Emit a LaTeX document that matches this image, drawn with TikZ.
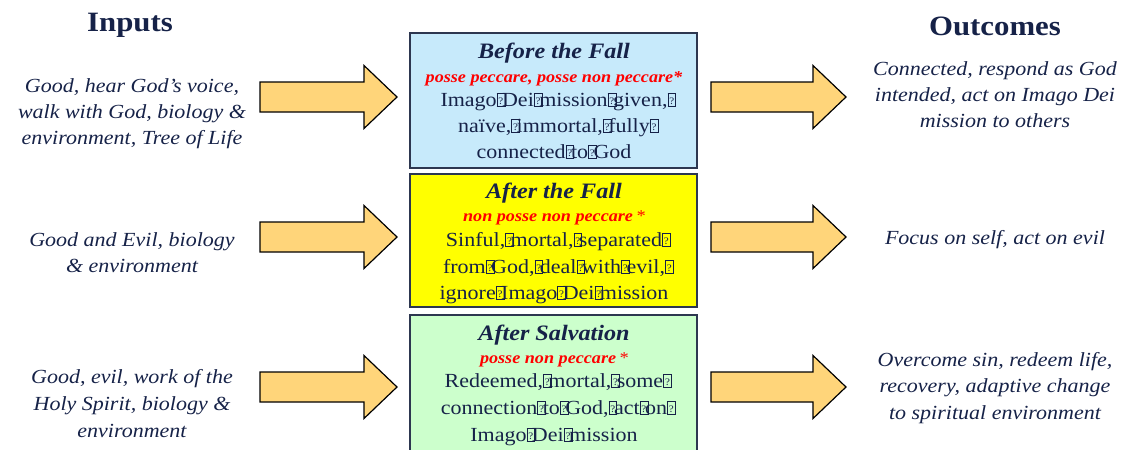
\documentclass[tikz,border=0pt]{standalone}
\usepackage{fontspec}
\setmainfont[FakeStretch=1.1]{Liberation Serif}

\definecolor{ink}{RGB}{22,34,72}
\definecolor{framecol}{RGB}{45,55,80}
\definecolor{skyfill}{RGB}{199,234,251}
\definecolor{sunfill}{RGB}{255,255,0}
\definecolor{mintfill}{RGB}{204,255,204}
\definecolor{arrowfill}{RGB}{255,213,122}
\definecolor{latin}{RGB}{255,0,0}

% placeholder glyph for the non-breaking spaces in the box texts
\newcommand\gapbox{\rlap{\raisebox{-0.02em}{\setlength{\fboxsep}{0pt}\setlength{\fboxrule}{0.6pt}\fbox{\makebox[0.36em][c]{\rule{0pt}{0.66em}\raisebox{0.1em}{\fontsize{10}{10}\selectfont ?}}}}}\hspace{0.27em}}

% block arrow: start x, tip x, centre y
\newcommand\blockarrow[3]{%
  \draw[arrowshape] (#1,#3-15) -- (#2-33,#3-15) -- (#2-33,#3-31.5) -- (#2,#3)
    -- (#2-33,#3+31.5) -- (#2-33,#3+15) -- (#1,#3+15) -- cycle;}

\tikzset{
  stagebox/.style={draw=framecol, line width=1.5pt, inner sep=0pt,
    minimum width=287, minimum height=135},
  arrowshape/.style={draw=black, line width=1.2pt, fill=arrowfill, line join=miter},
  heading/.style={text=ink, font=\fontsize{28}{30}\selectfont\bfseries, anchor=base, inner sep=0pt},
  stagetitle/.style={text=ink, font=\fontsize{22}{24}\selectfont\bfseries\itshape, anchor=base, inner sep=0pt},
  latinline/.style={text=latin, font=\fontsize{16.5}{18}\selectfont\bfseries\itshape, anchor=base, inner sep=0pt},
  bodyline/.style={text=ink, font=\fontsize{20}{22}\selectfont, anchor=base, inner sep=0pt},
  sideline/.style={text=ink, font=\fontsize{20}{22}\selectfont\itshape, anchor=base, inner sep=0pt},
}

\begin{document}
\begin{tikzpicture}[x=1pt, y=-1pt]
\useasboundingbox (0,0) rectangle (1128,450);
\clip (0,0) rectangle (1128,450);
\fill[white] (0,0) rectangle (1128,450);

% column headings
\node[heading] (hin) at (130,31) {Inputs};
\node[heading] (hout) at (995,35) {Outcomes};

% the three stage boxes
\node[stagebox, fill=skyfill] (b1) at (553.5,100.5) {};
\node[stagebox, fill=sunfill, minimum height=133] (b2) at (553.5,240.5) {};
\node[stagebox, fill=mintfill, minimum height=150] (b3) at (553.5,390) {};

% box 1
\node[stagetitle] (t1) at (554,58) {Before the Fall};
\node[latinline] (l1) at (554,82) {posse peccare, posse non peccare*};
\node[bodyline] (p1a) at (554,106) {Imago\gapbox Dei\gapbox mission\gapbox given,\gapbox};
\node[bodyline] (p1b) at (554,132) {naïve,\gapbox immortal,\gapbox fully\gapbox};
\node[bodyline] (p1c) at (554,158) {connected\gapbox to\gapbox God};

% box 2
\node[stagetitle] (t2) at (554,198) {After the Fall};
\node[latinline] (l2) at (554,221) {non posse non peccare\,\textmd{*}};
\node[bodyline] (p2a) at (554,246) {Sinful,\gapbox mortal,\gapbox separated\gapbox};
\node[bodyline] (p2b) at (554,273) {from\gapbox God,\gapbox deal\gapbox with\gapbox evil,\gapbox};
\node[bodyline] (p2c) at (554,299) {ignore\gapbox Imago\gapbox Dei\gapbox mission};

% box 3
\node[stagetitle] (t3) at (554,340) {After Salvation};
\node[latinline] (l3) at (554,363) {posse non peccare\,\textmd{*}};
\node[bodyline] (p3a) at (554,387) {Redeemed,\gapbox mortal,\gapbox some\gapbox};
\node[bodyline] (p3b) at (554,414) {connection\gapbox to\gapbox God,\gapbox act\gapbox on\gapbox};
\node[bodyline] (p3c) at (554,441) {Imago\gapbox Dei\gapbox mission};

% input arrows
\blockarrow{260}{397}{97}
\blockarrow{260}{397}{237}
\blockarrow{260}{397}{387}
% outcome arrows
\blockarrow{711}{846}{97}
\blockarrow{711}{846}{237}
\blockarrow{711}{846}{387}

% inputs
\node[sideline] (i1a) at (132,92) {Good, hear God’s voice,};
\node[sideline] (i1b) at (132,118) {walk with God, biology \&};
\node[sideline] (i1c) at (132,144) {environment, Tree of Life};
\node[sideline] (i2a) at (132,246) {Good and Evil, biology};
\node[sideline] (i2b) at (132,272) {\& environment};
\node[sideline] (i3a) at (132,383) {Good, evil, work of the};
\node[sideline] (i3b) at (132,410) {Holy Spirit, biology \&};
\node[sideline] (i3c) at (132,437) {environment};

% outcomes
\node[sideline] (o1a) at (995,75) {Connected, respond as God};
\node[sideline] (o1b) at (995,101) {intended, act on Imago Dei};
\node[sideline] (o1c) at (995,127) {mission to others};
\node[sideline] (o2a) at (995,244) {Focus on self, act on evil};
\node[sideline] (o3a) at (995,366) {Overcome sin, redeem life,};
\node[sideline] (o3b) at (995,392) {recovery, adaptive change};
\node[sideline] (o3c) at (995,419) {to spiritual environment};
\end{tikzpicture}
\end{document}
